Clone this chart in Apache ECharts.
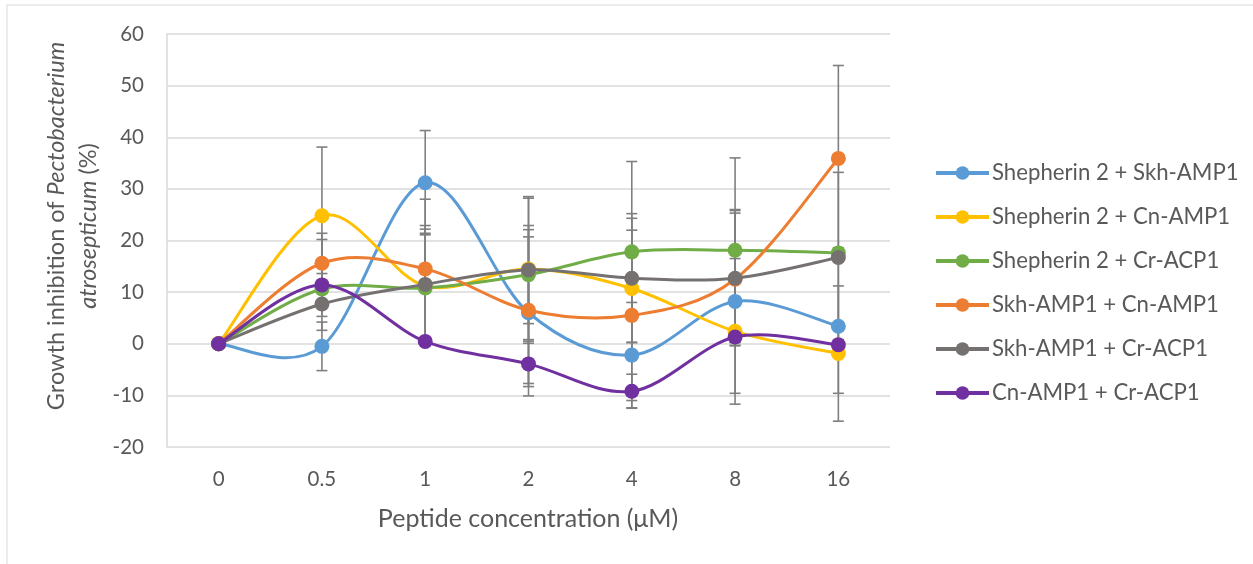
<!DOCTYPE html>
<html>
<head>
<meta charset="utf-8">
<script src="https://cdn.jsdelivr.net/npm/echarts@6/dist/echarts.min.js"></script>
<style>
html,body{margin:0;padding:0;background:#fff;}
#chart{width:1253px;height:564px;}
</style>
</head>
<body>
<div id="chart"></div>
<script>
// ---- data ----
var categories = ['0', '0.5', '1', '2', '4', '8', '16'];
var seriesNames = ['Shepherin 2 + Skh-AMP1', 'Shepherin 2 + Cn-AMP1', 'Shepherin 2 + Cr-ACP1',
                   'Skh-AMP1 + Cn-AMP1', 'Skh-AMP1 + Cr-ACP1', 'Cn-AMP1 + Cr-ACP1'];
var shepSkh = [0, -0.5, 31.2, 6.0, -2.2, 8.2, 3.4];
var shepCn  = [0, 24.8, 11.2, 14.5, 10.7, 2.4, -1.9];
var shepCr  = [0, 10.6, 10.8, 13.4, 17.8, 18.1, 17.6];
var skhCn   = [0, 15.6, 14.5, 6.5, 5.5, 12.5, 35.9];
var skhCr   = [0, 7.7, 11.5, 14.3, 12.7, 12.7, 16.7];
var cnCr    = [0, 11.4, 0.45, -3.9, -9.2, 1.3, -0.2];
// symmetric error (± value)
var errShepSkh = [0, 4.7, 10.1, 16.1, 10.2, 17.8, 13.0];
var errShepCn  = [0, 13.3, 11.0, 13.7, 13.6, 14.1, 13.1];
var errShepCr  = [0, 3.0, 10.6, 9.5, 17.5, 17.9, 1.0];
var errSkhCn   = [0, 5.8, 13.5, 14.2, 16.5, 12.8, 18.0];
var errSkhCr   = [0, 2.4, 11.4, 14.2, 12.5, 13.1, 16.5];
var errCnCr    = [0, 8.8, 0.3, 4.4, 3.3, 1.0, 1.0];
var yTicks = [-20, -10, 0, 10, 20, 30, 40, 50, 60];

var values = [shepSkh, shepCn, shepCr, skhCn, skhCr, cnCr];
var errors = [errShepSkh, errShepCn, errShepCr, errSkhCn, errSkhCr, errCnCr];
var colors = ['#5B9BD5', '#FFC000', '#70AD47', '#ED7D31', '#767171', '#7030A0'];
var FONT = 'Lato';
var TXT = '#595959';

var chart = echarts.init(document.getElementById('chart'));

var series = [];
// error bars (drawn beneath lines)
values.forEach(function (vals, si) {
  var data = [];
  vals.forEach(function (v, i) {
    if (errors[si][i] > 0) data.push([i, v - errors[si][i], v + errors[si][i]]);
  });
  series.push({
    type: 'custom',
    name: seriesNames[si] + ' err',
    z: 1,
    silent: true,
    data: data,
    renderItem: function (params, api) {
      var lo = api.coord([api.value(0), api.value(1)]);
      var hi = api.coord([api.value(0), api.value(2)]);
      var hw = 5.5;
      var st = { stroke: '#7F7F7F', lineWidth: 1.6 };
      return {
        type: 'group',
        children: [
          { type: 'line', shape: { x1: lo[0], y1: lo[1], x2: hi[0], y2: hi[1] }, style: st },
          { type: 'line', shape: { x1: lo[0] - hw, y1: lo[1], x2: lo[0] + hw, y2: lo[1] }, style: st },
          { type: 'line', shape: { x1: hi[0] - hw, y1: hi[1], x2: hi[0] + hw, y2: hi[1] }, style: st }
        ]
      };
    }
  });
});

// smoothed curves (Excel-like Catmull-Rom Bezier), then markers, per series
values.forEach(function (vals, si) {
  var segs = [];
  for (var i = 0; i < vals.length - 1; i++) segs.push([i, vals[i], vals[i + 1]]);
  series.push({
    type: 'custom',
    name: seriesNames[si] + ' curve',
    z: 2 + si * 2,
    silent: true,
    data: segs,
    renderItem: function (params, api) {
      var i = api.value(0);
      var n = vals.length;
      function P(k) {
        k = Math.max(0, Math.min(n - 1, k));
        return api.coord([k, vals[k]]);
      }
      var p0 = P(i - 1), p1 = P(i), p2 = P(i + 1), p3 = P(i + 2);
      var c1 = [p1[0] + (p2[0] - p0[0]) / 6, p1[1] + (p2[1] - p0[1]) / 6];
      var c2 = [p2[0] - (p3[0] - p1[0]) / 6, p2[1] - (p3[1] - p1[1]) / 6];
      return {
        type: 'bezierCurve',
        shape: { x1: p1[0], y1: p1[1], x2: p2[0], y2: p2[1],
                 cpx1: c1[0], cpy1: c1[1], cpx2: c2[0], cpy2: c2[1] },
        style: { stroke: colors[si], lineWidth: 3, fill: null, lineCap: 'round' }
      };
    }
  });
  series.push({
    type: 'line',
    name: seriesNames[si],
    data: vals,
    z: 3 + si * 2,
    symbol: 'circle',
    symbolSize: 15,
    showAllSymbol: true,
    itemStyle: { color: colors[si] },
    lineStyle: { color: colors[si], width: 0, opacity: 0 },
    emphasis: { disabled: true }
  });
});

chart.setOption({
  animation: false,
  backgroundColor: '#ffffff',
  grid: { left: 167, top: 34, width: 723, height: 413, containLabel: false },
  xAxis: {
    type: 'category',
    data: categories,
    boundaryGap: true,
    axisLine: { show: false },
    axisTick: { show: false },
    axisLabel: { color: TXT, fontFamily: FONT, fontSize: 20.5, margin: 22 },
    splitLine: { show: false }
  },
  yAxis: {
    type: 'value',
    min: yTicks[0],
    max: yTicks[yTicks.length - 1],
    interval: 10,
    axisLine: { show: true, lineStyle: { color: '#D9D9D9', width: 1.5 } },
    axisTick: { show: false },
    axisLabel: { color: TXT, fontFamily: FONT, fontSize: 20.5, margin: 23 },
    splitLine: { show: true, lineStyle: { color: '#D9D9D9', width: 1.5 } }
  },
  legend: {
    orient: 'vertical',
    left: 929,
    top: 157,
    itemWidth: 53,
    itemHeight: 17,
    itemGap: 22,
    data: seriesNames,
    lineStyle: { width: 4, opacity: 1 },
    textStyle: { color: TXT, fontFamily: FONT, fontSize: 22.2, lineHeight: 22, padding: [0, 0, 0, -2] }
  },
  graphic: [
    {
      type: 'rect',
      shape: { x: 7, y: 5, width: 1300, height: 600 },
      style: { fill: 'none', stroke: '#D9D9D9', lineWidth: 1 },
      z: -10
    },
    {
      type: 'text',
      x: 528, y: 519,
      style: {
        text: 'Peptide concentration (μM)',
        fill: TXT, font: '25px ' + FONT,
        align: 'center', verticalAlign: 'middle'
      }
    },
    {
      type: 'text',
      x: 72, y: 226,
      rotation: Math.PI / 2,
      style: {
        text: '{n|Growth inhibition of }{i|Pectobacterium}\n{i|atrosepticum}{n| (%)}',
        fill: TXT,
        align: 'center', verticalAlign: 'middle',
        rich: {
          n: { fontFamily: FONT, fontSize: 23.5, fill: TXT, lineHeight: 32 },
          i: { fontFamily: FONT, fontSize: 23.5, fontStyle: 'italic', fill: TXT, lineHeight: 32 }
        }
      }
    }
  ],
  series: series
});
</script>
</body>
</html>
